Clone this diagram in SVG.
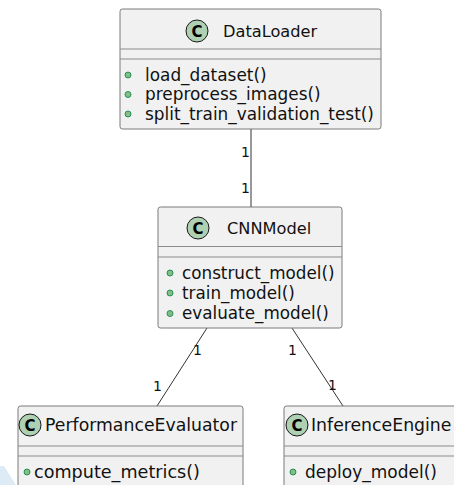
<svg xmlns="http://www.w3.org/2000/svg" width="454" height="485" viewBox="0 0 454 485">
<defs>
<style>
.box{fill:#F1F1F1;stroke:#7A7A7A;stroke-width:1}
.sep{stroke:#8C8C8C;stroke-width:1.2}
.spot{fill:#ADD1B2;stroke:#181818;stroke-width:1}
.ctext{font-family:"DejaVu Sans",sans-serif;font-weight:bold;font-size:15px;fill:#000;text-anchor:middle}
.title{font-family:"DejaVu Sans",sans-serif;fill:#111}
.meth{font-family:"DejaVu Sans",sans-serif;fill:#111}
.dot{fill:#84BE84;stroke:#038048;stroke-width:0.8}
.conn{stroke:#333333;stroke-width:1;fill:none}
.lbl{font-family:"DejaVu Sans",sans-serif;font-size:14px;fill:#111}
</style>
</defs>
<rect width="454" height="485" fill="#FFFFFF"/>
<polygon points="0,466 4,466 16,485 0,485" fill="#DDEBF7"/>

<g id="connectors">
<line class="conn" x1="251" y1="129" x2="251" y2="207"/>
<line class="conn" x1="207" y1="328" x2="157" y2="406"/>
<line class="conn" x1="292" y1="328" x2="343" y2="406"/>
<text class="lbl" x="241" y="157">1</text>
<text class="lbl" x="241" y="193">1</text>
<text class="lbl" x="193" y="355">1</text>
<text class="lbl" x="153" y="391">1</text>
<text class="lbl" x="288" y="355">1</text>
<text class="lbl" x="328" y="390">1</text>
</g>

<g id="DataLoader">
<rect class="box" x="120" y="9" width="261" height="120" rx="2.5"/>
<line class="sep" x1="120" y1="49" x2="381" y2="49"/>
<line class="sep" x1="120" y1="59" x2="381" y2="59"/>
<circle class="spot" cx="197" cy="31" r="11"/>
<text class="ctext" x="197" y="36.5">C</text>
<text class="title" x="223" y="37" font-size="16.2">DataLoader</text>
<circle class="dot" cx="128" cy="75" r="3"/>
<text class="meth" x="145" y="80.5" font-size="16.9">load_dataset()</text>
<circle class="dot" cx="128" cy="94.5" r="3"/>
<text class="meth" x="145" y="100" font-size="16.9">preprocess_images()</text>
<circle class="dot" cx="128" cy="114" r="3"/>
<text class="meth" x="145" y="119.5" font-size="16.9">split_train_validation_test()</text>
</g>

<g id="CNNModel">
<rect class="box" x="158" y="207" width="184" height="121" rx="2.5"/>
<line class="sep" x1="158" y1="246.5" x2="342" y2="246.5"/>
<line class="sep" x1="158" y1="257" x2="342" y2="257"/>
<circle class="spot" cx="198" cy="228" r="11"/>
<text class="ctext" x="198" y="233.5">C</text>
<text class="title" x="227" y="234" font-size="16.2">CNNModel</text>
<circle class="dot" cx="170" cy="273" r="3"/>
<text class="meth" x="182" y="278.5" font-size="16.8">construct_model()</text>
<circle class="dot" cx="170" cy="293" r="3"/>
<text class="meth" x="182" y="298.5" font-size="16.8">train_model()</text>
<circle class="dot" cx="170" cy="313.5" r="3"/>
<text class="meth" x="182" y="319" font-size="16.8">evaluate_model()</text>
</g>

<g id="PerformanceEvaluator">
<rect class="box" x="18" y="406" width="225" height="90" rx="2.5"/>
<line class="sep" x1="18" y1="446" x2="243" y2="446"/>
<line class="sep" x1="18" y1="456" x2="243" y2="456"/>
<circle class="spot" cx="30" cy="425" r="11"/>
<text class="ctext" x="30" y="430.5">C</text>
<text class="title" x="45" y="431" font-size="17.3">PerformanceEvaluator</text>
<circle class="dot" cx="27" cy="472" r="3"/>
<text class="meth" x="34" y="478" font-size="17.6">compute_metrics()</text>
</g>

<g id="InferenceEngine">
<rect class="box" x="284" y="406" width="190" height="90" rx="2.5"/>
<line class="sep" x1="284" y1="446" x2="474" y2="446"/>
<line class="sep" x1="284" y1="456" x2="474" y2="456"/>
<circle class="spot" cx="297" cy="425" r="11"/>
<text class="ctext" x="297" y="430.5">C</text>
<text class="title" x="311" y="431" font-size="17.3">InferenceEngine</text>
<circle class="dot" cx="293" cy="472" r="3"/>
<text class="meth" x="305" y="478" font-size="17">deploy_model()</text>
</g>
</svg>
